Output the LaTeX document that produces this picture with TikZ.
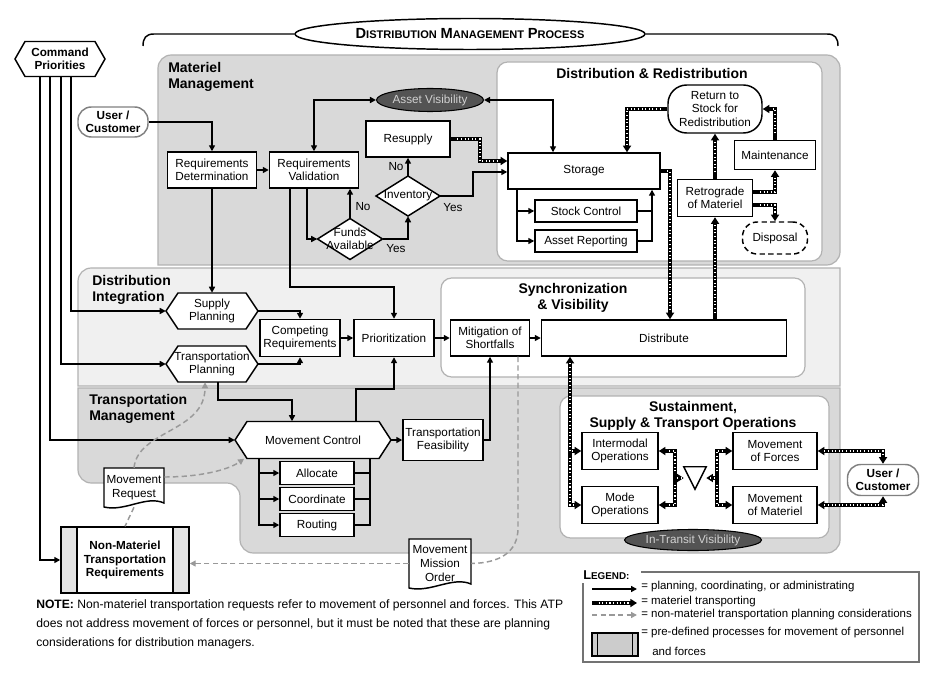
\documentclass[tikz,border=0pt]{standalone}
\usepackage{fontspec}
\setmainfont{Liberation Sans}
\usetikzlibrary{arrows.meta,shapes.geometric,calc}
\definecolor{regA}{gray}{0.85}
\definecolor{regB}{gray}{0.94}
\definecolor{regline}{gray}{0.70}
\definecolor{dashc}{gray}{0.60}
\definecolor{ellc}{gray}{0.33}
\definecolor{ellt}{gray}{0.82}
\newcommand\fakesc[2]{{\fontsize{11}{12}\selectfont #1}{\fontsize{8.3}{12}\selectfont #2}}
\newcommand\fakescs[2]{{\fontsize{9.6}{11}\selectfont #1}{\fontsize{7.4}{11}\selectfont #2}}
\newcommand\hexnode[6]{%
  \draw[shp,shift={#2}] (-#3,0) -- ({-#3+#5},-#4) -- ({#3-#5},-#4) -- (#3,0) -- ({#3-#5},#4) -- ({-#3+#5},#4) -- cycle;
  \node[txt,minimum width={2*#3*0.75pt},minimum height={2*#4*0.75pt}] (#1) at #2 {#6};}
\newcommand\dianode[5]{%
  \draw[shp,shift={#2}] (-#3,0) -- (0,-#4) -- (#3,0) -- (0,#4) -- cycle;
  \node[txt,minimum width={2*#3*0.75pt},minimum height={2*#4*0.75pt}] (#1) at #2 {#5};}
\newcommand\docnode[6]{%
  \draw[shp] (#2,#3) -- (#4,#3) -- (#4,{#5-4}) .. controls ({#4-0.3*(#4-#2)},{#5-12}) and ({#2+0.35*(#4-#2)},{#5+5}) .. (#2,#5) -- cycle;
  \node[txt,minimum width={(#4-#2)*0.75pt},minimum height={(#5-#3)*0.75pt}] (#1) at ({(#2+#4)/2},{(#3+#5)/2}) {#6};}
\tikzset{
  txt/.style={font=\fontsize{8.8}{10.2}\selectfont, align=center, inner sep=0pt, text=black},
  shp/.style={draw=black, line width=1.1pt, fill=white, line join=miter},
  box/.style={txt, draw=black, line width=1.1pt, fill=white},
  wh/.style 2 args={minimum width={#1*0.75pt}, minimum height={#2*0.75pt}},
  ell/.style={ellipse, draw=black, line width=0.8pt, fill=ellc, text=ellt, inner sep=0pt, font=\fontsize{8.8}{10}\selectfont},
  reg/.style={draw=regline, line width=0.9pt},
  wreg/.style={draw=regline, line width=0.9pt, fill=white, rounded corners=8pt},
  rlab/.style={font=\bfseries\fontsize{10.5}{11.8}\selectfont, align=left, inner sep=0pt, anchor=north west},
  rtit/.style={font=\bfseries\fontsize{10.5}{11.8}\selectfont, align=center, inner sep=0pt},
  lab/.style={font=\fontsize{8.8}{10}\selectfont, inner sep=0pt},
  tipA/.tip={Triangle[length=4.5pt,width=4.5pt]},
  tipM/.tip={Triangle[length=5pt,width=6pt]},
  pl/.style={draw=black, line width=1.1pt, -tipA},
  plain/.style={draw=black, line width=1.1pt},
  matbase/.style={draw=black, line width=2.9pt, postaction={draw=white, line width=0.85pt, dash pattern=on 0.8pt off 1.9pt, arrows=-, shorten >=6pt, shorten <=5pt}},
  mat/.style={matbase, -tipM},
  matboth/.style={matbase, tipM-tipM},
  nmplain/.style={draw=dashc, line width=1.1pt, dash pattern=on 4pt off 2.5pt},
  nml/.style={nmplain, -tipA},
  lt/.style={anchor=west, inner sep=0pt, font=\fontsize{8.6}{10}\selectfont},
}
\begin{document}
\begin{tikzpicture}[x=0.75pt,y=-0.75pt]
\useasboundingbox (0,0) rectangle (941,673);
\fill[white] (0,0) rectangle (941,673);

% ---------- regions ----------
\draw[reg, fill=regA] (158,265) [rounded corners=10pt]-- (158,55) -- (840,55) -- (840,265) [sharp corners]-- cycle;
\draw[reg, fill=regB] (78,386) [rounded corners=10pt]-- (78,268) [sharp corners]-- (840,268) -- (840,386) -- cycle;
\draw[reg, fill=regA] (78,388) -- (840,388) [rounded corners=10pt]-- (840,553) -- (240,553) -- (240,483) -- (78,483) [sharp corners]-- cycle;
\draw[wreg] (497,62) rectangle (822,261);
\draw[wreg] (441,278) rectangle (805,377);
\draw[wreg] (560,396) rectangle (829,538);

\node[rlab] (lmm) at (168,62) {Materiel\\Management};
\node[rlab] (ldi) at (92,275) {Distribution\\Integration};
\node[rlab] (ltm) at (89,394) {Transportation\\Management};
\node[rtit] (ldr) at (652,74) {Distribution \& Redistribution};
\node[rtit] (lsv) at (573,298) {Synchronization\\\& Visibility};
\node[rtit] (lss) at (693,416) {Sustainment,\\Supply \& Transport Operations};

% ---------- title ----------
\node[ellipse, draw=black, line width=1.1pt, fill=white, wh={350}{31}, inner sep=0pt, font=\bfseries] (title) at (470,34) {\fakesc{D}{ISTRIBUTION} \fakesc{M}{ANAGEMENT} \fakesc{P}{ROCESS}};
\coordinate (brl) at (143,46);
\coordinate (brr) at (838,46);
\draw[line width=1.1pt] (brl) .. controls (143,38) and (146,34) .. (154,34) -- (title.west);
\draw[line width=1.1pt] (title.east) -- (827,34) .. controls (835,34) and (838,38) .. (brr);

% ---------- nodes ----------
\hexnode{cp}{(60,59)}{45}{17.5}{10}{\textbf{Command}\\\textbf{Priorities}}
\node[box, draw=black!50, rounded corners=10pt, wh={70}{30}] (uc1) at (113,122) {\textbf{User /}\\\textbf{Customer}};
\node[box, wh={89}{36}] (rd) at (212,170) {Requirements\\Determination};
\node[box, wh={89}{36}] (rv) at (314,170) {Requirements\\Validation};
\node[ell, wh={107}{23}] (av) at (430,100) {Asset Visibility};
\node[box, wh={84}{36}] (rs) at (408,139) {Resupply};
\dianode{inv}{(408,196)}{32}{20}{Inventory}
\dianode{fa}{(350,239)}{32.5}{20.5}{Funds\\Available}
\node[box, wh={152}{36}] (st) at (584,171) {Storage};
\node[box, wh={102}{22}] (sc) at (586,211) {Stock Control};
\node[box, wh={102}{22}] (ar) at (586,241) {Asset Reporting};
\node[box, rounded corners=14pt, wh={94}{48}] (ret) at (715,109) {Return to\\Stock for\\Redistribution};
\node[box, wh={81}{29}] (mt) at (775,155) {Maintenance};
\node[box, wh={75}{37}] (rg) at (715,198) {Retrograde\\of Materiel};
\node[box, dash pattern=on 4pt off 2.5pt, rounded corners=11pt, wh={65}{32}] (dp) at (775,238) {Disposal};
\hexnode{sp}{(212,311)}{46}{18}{12}{Supply\\Planning}
\hexnode{tp}{(212,364)}{46}{18}{12}{Transportation\\Planning}
\node[box, wh={80}{37}] (cr) at (300,338) {Competing\\Requirements};
\node[box, wh={80}{37}] (pr) at (394,338) {Prioritization};
\node[box, wh={79}{36}] (mi) at (490,338) {Mitigation of\\Shortfalls};
\node[box, wh={245}{36}] (di) at (664,338) {Distribute};
\hexnode{mc}{(313,440)}{78}{18.5}{12}{Movement Control}
\node[box, wh={80}{41}] (tf) at (443,440) {Transportation\\Feasibility};
\node[box, wh={74}{23}] (al) at (317,473) {Allocate};
\node[box, wh={74}{23}] (co) at (317,499) {Coordinate};
\node[box, wh={74}{23}] (ro) at (317,525) {Routing};
\docnode{mr}{104}{468}{164}{507}{Movement\\Request}
\docnode{mmo}{409}{539}{471}{588}{Movement\\Mission\\Order}
\node[box, fill=gray!22, wh={128}{66}, font=\bfseries\fontsize{8.8}{10.2}\selectfont,
  path picture={\fill[white] ([xshift=12pt]path picture bounding box.south west) rectangle ([xshift=-12pt]path picture bounding box.north east);
    \draw[line width=1.1pt] ([xshift=12pt]path picture bounding box.south west) -- ([xshift=12pt]path picture bounding box.north west);
    \draw[line width=1.1pt] ([xshift=-12pt]path picture bounding box.south east) -- ([xshift=-12pt]path picture bounding box.north east);}]
  (nm) at (125,560) {Non-Materiel\\Transportation\\Requirements};
\node[box, wh={76}{37}] (io) at (620,451) {Intermodal\\Operations};
\node[box, wh={76}{37}] (mo) at (620,505) {Mode\\Operations};
\node[inner sep=0pt, wh={22}{22}] (tri) at (695,478) {};
\draw[shp] (tri.north west) -- (tri.north east) -- (tri.south) -- cycle;
\node[box, wh={84}{37}] (mf) at (775,451) {Movement\\of Forces};
\node[box, wh={84}{37}] (mm) at (775,505) {Movement\\of Materiel};
\node[box, draw=black!50, rounded corners=10pt, wh={71}{31}] (uc2) at (883,480) {\textbf{User /}\\\textbf{Customer}};
\node[ell, wh={137}{21}] (itv) at (693,540) {In-Transit Visibility};

% ---------- connectors ----------
\draw[pl] (40,0 |- cp.south) |- (nm.west);
\draw[pl] (50,0 |- cp.south) |- (mc.west);
\draw[pl] (61,0 |- cp.south) |- (tp.west);
\draw[pl] (71,0 |- cp.south) |- (sp.west);
\draw[pl] (uc1.east) -| (rd.north);
\draw[pl] (rd.east) -- (rv.west);
\draw[pl] (rd.south) -- (sp.north);
\draw[pl, tipA-tipA] (rv.north) |- (av.west);
\draw[pl, tipA-tipA] (av.east) -| (553,0 |- st.north);
\draw[pl] (307,0 |- rv.south) |- (fa.west);
\draw[pl] (290,0 |- rv.south) -- (290,287) -| (pr.north);
\draw[pl] (fa.north) -- (fa.north |- rv.south);
\node[lab] (no1) at (363,207) {No};
\draw[pl] (fa.east) -| (inv.south);
\node[lab] (yes1) at (396,249) {Yes};
\draw[pl] (inv.north) -- (rs.south);
\node[lab] (no2) at (396,167) {No};
\draw[pl] (inv.east) -| (473,172) -- (st.west |- 0,172);
\node[lab] (yes2) at (453,208) {Yes};
\draw[mat] (rs.east) -| (480,161) -- (st.west |- 0,161);
\draw[pl] (517,0 |- st.south) |- (sc.west);
\draw[pl] (517,0 |- st.south) |- (ar.west);
\draw[plain] (sc.east) -- (652,0 |- sc.east);
\draw[pl] (ar.east) -| (652,0 |- st.south);
\draw[mat] (st.east) -| (670,0 |- di.north);
\draw[mat] (ret.west) -| (627,0 |- st.north);
\draw[mat] (rg.north) -- (ret.south);
\draw[mat] (715,0 |- di.north) -- (rg.south);
\draw[mat] (rg.east |- 0,192) -| (mt.south);
\draw[mat] (rg.east |- 0,205) -| (dp.north);
\draw[mat] (mt.north) |- (ret.east);
\draw[pl] (sp.east) -| (cr.north);
\draw[pl] (tp.east) -| (cr.south);
\draw[pl] (cr.east) -- (pr.west);
\draw[pl] (pr.east) -- (mi.west);
\draw[pl] (mi.east) -- (di.west);
\draw[pl] (218,0 |- tp.south) |- (292,400) -- (292,0 |- mc.north);
\draw[pl] (356,0 |- mc.north) -- (356,389) -| (pr.south);
\draw[pl] (mc.east) -- (tf.west);
\draw[pl] (tf.east) -| (mi.south);
\draw[pl] (259,0 |- mc.south) |- (al.west);
\draw[pl] (259,0 |- mc.south) |- (co.west);
\draw[pl] (259,0 |- mc.south) |- (ro.west);
\draw[plain] (370,0 |- mc.south) |- (ro.east);
\draw[plain] (al.east) -- (370,0 |- al.east);
\draw[plain] (co.east) -- (370,0 |- co.east);
\draw[matboth] (570,0 |- di.south) |- (io.west);
\draw[mat] (570,0 |- io.west) |- (mo.west);
\draw[mat] (675,0 |- tri.west) |- (io.east);
\draw[mat] (675,0 |- tri.west) |- (mo.east);
\draw[mat] (675,0 |- tri.west) -- (tri.west);
\draw[mat] (717,0 |- tri.east) |- (mf.west);
\draw[mat] (717,0 |- tri.east) |- (mm.west);
\draw[mat] (717,0 |- tri.east) -- (tri.east);
\draw[matboth] (mf.east) -| (uc2.north);
\draw[matboth] (mm.east) -| (uc2.south);
\draw[nml] (mr.north) .. controls (138,430) and (205,432) .. (205,0 |- tp.south);
\draw[nml] (mr.east |- 0,477) .. controls (200,477) and (228,470) .. ([xshift=7pt]mc.south west);
\draw[nmplain] (mr.south) -- (nm.north);
\draw[nml] (mmo.west) -- (nm.east |- mmo.west);
\draw[nmplain] (518,0 |- mi.south) -- (518,528) .. controls (518,552) and (500,563) .. (mmo.east);

% ---------- legend ----------
\node[anchor=west, inner sep=0pt, font=\bfseries] (lg) at (583,575) {\fakescs{L}{EGEND:}};
\draw[draw=black!55, line width=0.9pt] (641,572) -- (919,572) -- (919,662) -- (583,662) -- (583,583);
\coordinate (l1a) at (592,589); \coordinate (l1b) at (637,589);
\coordinate (l2a) at (592,603); \coordinate (l2b) at (637,603);
\coordinate (l3a) at (592,615); \coordinate (l3b) at (637,615);
\draw[pl] (l1a) -- (l1b);
\draw[mat] (l2a) -- (l2b);
\draw[nml] (l3a) -- (l3b);
\node[lt] (t1) at (641,587) {= planning, coordinating, or administrating};
\node[lt] (t2) at (641,602) {= materiel transporting};
\node[lt] (t3) at (641,615) {= non-materiel transportation planning considerations};
\node[draw=black, line width=0.9pt, fill=gray!40, wh={46}{23}, inner sep=0pt,
  path picture={\draw[line width=0.9pt] ([xshift=4pt]path picture bounding box.south west) -- ([xshift=4pt]path picture bounding box.north west);
    \draw[line width=0.9pt] ([xshift=-4pt]path picture bounding box.south east) -- ([xshift=-4pt]path picture bounding box.north east);}]
  (licon) at (615,644.5) {};
\node[lt] (t4) at (641,633) {= pre-defined processes for movement of personnel};
\node[lt] (t5) at (652,651) {and forces};

% ---------- note ----------
\node[anchor=north west, inner sep=0pt, align=left, font=\fontsize{9.1}{14.5}\selectfont] (note) at (36,599)
 {\textbf{NOTE:} Non-materiel transportation requests refer to movement of personnel and forces. This ATP\\
  does not address movement of forces or personnel, but it must be noted that these are planning\\
  considerations for distribution managers.};
\end{tikzpicture}
\end{document}
